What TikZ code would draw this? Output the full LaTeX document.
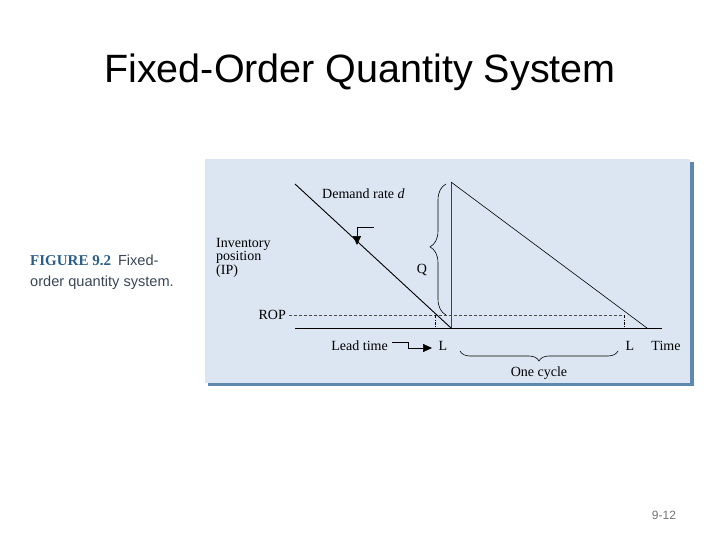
\documentclass[tikz,border=0pt]{standalone}
\usepackage{fontspec}
\setmainfont{Liberation Serif}
\newfontfamily\titlefont{Liberation Sans}
\usetikzlibrary{arrows.meta,decorations.pathreplacing}
\definecolor{panel}{HTML}{DCE6F2}
\definecolor{panelshadow}{HTML}{5E88AE}
\definecolor{figblue}{HTML}{2A5E8C}
\definecolor{capgray}{HTML}{3A4656}
\begin{document}
\begin{tikzpicture}[x=1pt,y=-1pt,
  lbl/.style={font=\fontsize{14}{16}\selectfont, inner sep=0pt},
  thinline/.style={line width=0.6pt, black},
  dashrop/.style={line width=0.6pt, dashed, dash pattern=on 3pt off 2pt, black!70},
  dashdot/.style={line width=0.6pt, dash pattern=on 3pt off 1.5pt on 0.8pt off 1.5pt, black},
  tip/.style={-{Triangle[length=9pt,width=8pt]}},
  bracestyle/.style={line width=0.6pt, decorate}]
\useasboundingbox (0,0) rectangle (720,540);
% title
\node[font=\titlefont\fontsize{39.5}{44}\selectfont, inner sep=0pt] (title) at (360,72) {Fixed-Order Quantity System};
% panel with shadow
\fill[panelshadow] (208,162) rectangle (694,386);
\fill[panel] (205,159) rectangle (690,383);
% caption
\node[anchor=base west, inner sep=0pt, align=left] (cap1) at (30,265)
  {{\color{figblue}\fontsize{15}{17}\bfseries FIGURE 9.2}\hspace{7pt}{\color{capgray}\titlefont\fontsize{14.6}{17}\selectfont Fixed-}};
\node[anchor=base west, inner sep=0pt] (cap2) at (30,286)
  {\color{capgray}\titlefont\fontsize{14.6}{17}\selectfont order quantity system.};
% coordinates
\coordinate (d0) at (295,184);
\coordinate (z1) at (451,328);
\coordinate (top) at (451,182);
\coordinate (z2) at (647,328);
\coordinate (b0) at (295,328);
\coordinate (b1) at (662,328);
\coordinate (r0) at (289,315);
\coordinate (r1) at (624,315);
\coordinate (l1t) at (435,315);
\coordinate (l1b) at (435,328);
\coordinate (l2b) at (624,328);
% axis
\draw[line width=0.8pt] (b0) -- (b1);
% sawtooth
\draw[line width=0.9pt] (d0) -- (z1);
\draw[line width=0.6pt, black!75] (z1) -- (top);
\draw[line width=0.6pt] (top) -- (z2);
% ROP dashed
\draw[dashrop] (r0) -- (r1);
\draw[dashdot] (l1t) -- (l1b);
\draw[dashdot] (r1) -- (l2b);
% Q brace
\draw[bracestyle, decoration={brace, amplitude=16pt, aspect=0.52}] (446,315) -- (446,184);
\node[lbl] (Q) at (422,270) {Q};
% labels
\node[lbl, anchor=west] (dem) at (322,194) {Demand rate \textit{d}};
\coordinate (da0) at (374,227);
\coordinate (da1) at (357,227);
\coordinate (da2) at (357,245);
\draw[thinline, tip] (da0) -- (da1) -- (da2);
\node[lbl, anchor=north west, align=left, font=\fontsize{14}{13.5}\selectfont] (ip) at (216,238) {Inventory\\position\\(IP)};
\node[lbl, anchor=east] (rop) at (286,315) {ROP};
\node[lbl, anchor=east] (lead) at (388,346) {Lead time};
\node[lbl] (L1) at (443,346) {L};
\node[lbl] (L2) at (630,346) {L};
\node[lbl] (time) at (666,346) {Time};
\coordinate (la0) at (392,342);
\coordinate (la1) at (408,342);
\coordinate (la2) at (408,348);
\coordinate (la3) at (432,348);
\draw[thinline, tip] (la0) -- (la1) -- (la2) -- (la3);
% one cycle brace
\draw[bracestyle, decoration={brace, mirror, amplitude=10pt, aspect=0.5}] (460,351) -- (618,351);
\node[lbl] (cycle) at (539,373) {One cycle};
% page number
\node[font=\titlefont\fontsize{12}{14}\selectfont, text=black!55, inner sep=0pt] (pg) at (664,515) {9-12};
\end{tikzpicture}
\end{document}
